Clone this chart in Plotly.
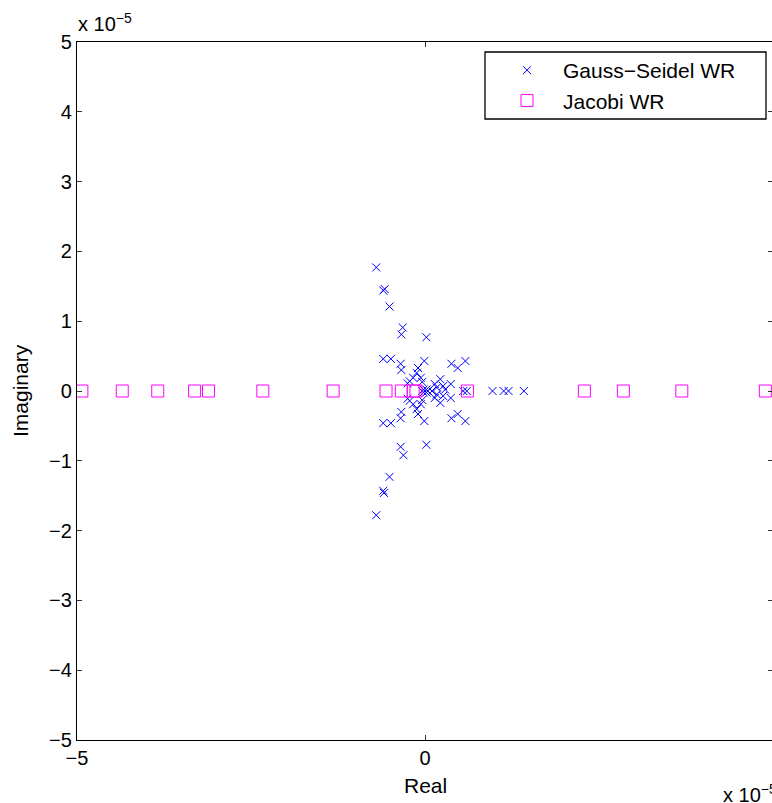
import plotly.graph_objects as go

# Eigenvalues of the waveform relaxation iteration operators (units of 1e-5)
gs_real = [
    -0.70, -0.58, -0.60, -0.51, -0.32, -0.34, 0.02, -0.60, -0.49, -0.35,
    -0.34, -0.01, -0.10, -0.12, -0.17, -0.22, -0.25, -0.06, -0.04, 0.22,
    0.14, 0.26, 0.17, 0.38, 0.47, 0.58, 0.37,
    -0.70, -0.59, -0.60, -0.51, -0.31, -0.35, 0.02, -0.60, -0.49, -0.35,
    -0.34, -0.01, -0.10, -0.12, -0.17, -0.22, -0.25, -0.06, -0.04, 0.22,
    0.14, 0.26, 0.17, 0.38, 0.47, 0.58, 0.37,
    0.00, 0.02, 0.02, -0.02, -0.02, 0.04, -0.04, 0.10, 0.29, 0.55,
    0.60, 0.97, 1.13, 1.20, 1.42,
]
gs_imag = [
    1.77, 1.46, 1.44, 1.21, 0.91, 0.81, 0.77, 0.46, 0.46, 0.39,
    0.30, 0.43, 0.33, 0.26, 0.19, 0.14, 0.11, 0.19, 0.13, 0.17,
    0.10, 0.07, 0.05, 0.39, 0.33, 0.43, 0.10,
    -1.78, -1.46, -1.43, -1.23, -0.92, -0.80, -0.77, -0.46, -0.46, -0.39,
    -0.30, -0.43, -0.33, -0.26, -0.19, -0.14, -0.11, -0.19, -0.13, -0.17,
    -0.10, -0.07, -0.05, -0.39, -0.33, -0.43, -0.10,
    0.00, 0.02, -0.02, 0.02, -0.02, 0.00, 0.00, 0.00, 0.02, 0.00,
    0.00, 0.00, 0.00, 0.00, 0.00,
]
jac_real = [-4.93, -4.35, -3.84, -3.31, -3.11, -2.33, -1.32, -0.56, -0.34,
            -0.17, -0.13, 0.61, 2.29, 2.85, 3.69, 4.89]
jac_imag = [0.0] * len(jac_real)

x_ticks = [-5, 0, 5]
y_ticks = [-5, -4, -3, -2, -1, 0, 1, 2, 3, 4, 5]

# page / plot-area geometry in pixels
W, H = 776, 803
L, R, T, B = 77, 773, 42, 740
PW, PH = R - L, B - T


def px(xp):
    return (xp - L) / PW


def py(yp):
    return (B - yp) / PH


FONT = "Liberation Sans, Arial, Helvetica, sans-serif"

fig = go.Figure()
fig.add_trace(go.Scatter(
    x=gs_real, y=gs_imag, mode="markers", name="Gauss\u2212Seidel WR",
    legendgroup="gs",
    marker=dict(symbol="x-thin-open", size=8, color="#0000FF",
                line=dict(color="#0000FF", width=1)),
))
fig.add_trace(go.Scatter(
    x=jac_real, y=jac_imag, mode="markers", name="Jacobi WR",
    legendgroup="jac",
    marker=dict(symbol="square-open", size=12, color="#FF00FF",
                line=dict(color="#FF00FF", width=1)),
))

axis_common = dict(
    showgrid=False, zeroline=False, showline=True, mirror="ticks",
    linecolor="black", linewidth=1.3, ticks="inside", ticklen=5,
    tickwidth=1, tickcolor="#333333",
    tickfont=dict(family=FONT, size=20, color="black"),
)
fig.update_xaxes(range=[-5, 5], tickvals=x_ticks, **axis_common)
fig.update_yaxes(range=[-5, 5], tickvals=y_ticks, **axis_common)

# legend frame
fig.add_shape(type="rect", xref="paper", yref="paper",
              x0=px(485), x1=px(766), y0=py(119), y1=py(52),
              line=dict(color="black", width=1.3), fillcolor="white",
              layer="above")

fig.update_layout(
    width=W, height=H,
    margin=dict(l=L, r=W - R, t=T, b=H - B, pad=0),
    paper_bgcolor="white", plot_bgcolor="white",
    showlegend=True,
    legend=dict(
        x=px(491), y=py(50), xanchor="left", yanchor="top",
        bgcolor="rgba(0,0,0,0)", borderwidth=0,
        font=dict(family=FONT, size=21, color="black"),
        itemwidth=62, traceorder="grouped", tracegroupgap=0,
    ),
    annotations=[
        dict(text="Real", xref="x", yref="paper", x=0, y=py(785),
             xanchor="center", yanchor="middle", showarrow=False,
             font=dict(family=FONT, size=21, color="black")),
        dict(text="Imaginary", xref="paper", yref="y", x=px(20), y=0,
             xanchor="center", yanchor="middle", textangle=-90,
             showarrow=False, font=dict(family=FONT, size=21, color="black")),
        dict(text="x 10<sup>\u22125</sup>", xref="paper", yref="paper",
             x=px(76), y=py(37), xanchor="left", yanchor="bottom",
             showarrow=False, font=dict(family=FONT, size=20, color="black")),
        dict(text="x 10<sup>\u22125</sup>", xref="paper", yref="paper",
             x=px(721), y=py(793), xanchor="left", yanchor="middle",
             showarrow=False, font=dict(family=FONT, size=20, color="black")),
    ],
)

fig.write_html(
    "out.html",
    post_script="document.documentElement.style.overflow='hidden';"
                "document.body.style.overflow='hidden';"
                "document.body.style.margin='0';",
)
